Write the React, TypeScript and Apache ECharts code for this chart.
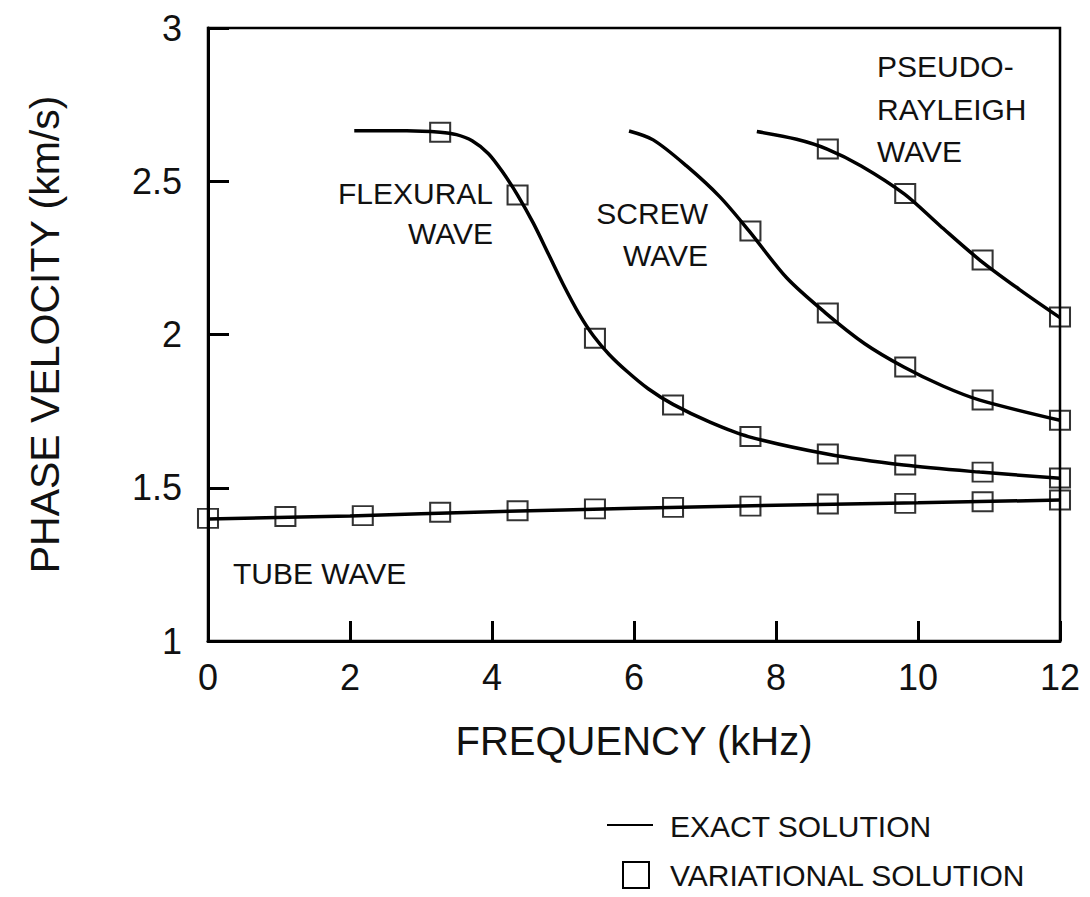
import React, { useEffect, useRef } from "react";
import * as echarts from "echarts";

// Frequencies (kHz) at which the variational solution was computed
const FREQ = [0, 1.09, 2.18, 3.27, 4.36, 5.45, 6.55, 7.64, 8.73, 9.82, 10.91, 12];

// Variational solution (squares), phase velocity km/s
const tubeVar = [1.4, 1.406, 1.409, 1.42, 1.425, 1.431, 1.436, 1.44, 1.447, 1.449, 1.454, 1.46];
const flexVar = [null, null, null, 2.66, 2.455, 1.988, 1.77, 1.667, 1.61, 1.574, 1.551, 1.532];
const screwVar = [null, null, null, null, null, null, null, 2.338, 2.07, 1.894, 1.786, 1.72];
const pseudoVar = [null, null, null, null, null, null, null, null, 2.605, 2.46, 2.243, 2.057];

// Exact solution (lines)
const tubeExactF = [0, 2, 4, 6, 8, 10, 12];
const tubeExactV = [1.398, 1.408, 1.422, 1.433, 1.443, 1.451, 1.46];

const flexExactF = [2.06, 2.8, 3.27, 3.5, 3.72, 3.95, 4.15, 4.36, 4.58, 4.8, 5.0, 5.22, 5.43, 5.65, 5.9, 6.2, 6.55, 7.07, 7.61, 8.72, 9.8, 10.87, 12];
const flexExactV = [2.665, 2.665, 2.66, 2.652, 2.632, 2.59, 2.53, 2.455, 2.364, 2.26, 2.165, 2.07, 1.995, 1.935, 1.88, 1.823, 1.772, 1.714, 1.667, 1.61, 1.574, 1.551, 1.531];

const screwExactF = [5.93, 6.27, 6.74, 7.21, 7.62, 8.15, 8.7, 9.25, 9.8, 10.35, 10.87, 12];
const screwExactV = [2.664, 2.635, 2.55, 2.449, 2.338, 2.185, 2.07, 1.97, 1.894, 1.832, 1.786, 1.72];

const pseudoExactF = [7.73, 8.29, 8.72, 9.2, 9.81, 10.31, 10.87, 11.44, 12];
const pseudoExactV = [2.662, 2.637, 2.605, 2.55, 2.458, 2.355, 2.243, 2.145, 2.055];

const X_TICKS = [0, 2, 4, 6, 8, 10, 12];
const Y_TICKS = [1, 1.5, 2, 2.5, 3];

const FONT = "'Liberation Sans', Arial, Helvetica, sans-serif";

function zip(f: number[], v: (number | null)[]) {
  const out: number[][] = [];
  f.forEach((x, i) => {
    const y = v[i];
    if (y !== null && y !== undefined) out.push([x, y]);
  });
  return out;
}

function lineSeries(name: string, f: number[], v: number[]) {
  return {
    name,
    type: "line",
    data: zip(f, v),
    smooth: 0.3,
    showSymbol: false,
    symbol: "none",
    lineStyle: { color: "#000", width: 3.5 },
    z: 2,
  };
}

function squareSeries(name: string, v: (number | null)[]) {
  return {
    name,
    type: "scatter",
    data: zip(FREQ, v),
    symbol: "rect",
    symbolSize: [20, 19],
    itemStyle: { color: "rgba(0,0,0,0)", borderColor: "#000", borderWidth: 2 },
    z: 3,
  };
}

function label(text: string, x: number, y: number, align: string) {
  return {
    type: "text",
    x,
    y,
    silent: true,
    style: {
      text,
      fontSize: 30,
      fontFamily: FONT,
      fill: "#111",
      align,
      verticalAlign: "middle",
    },
  };
}

export default function App() {
  const ref = useRef<HTMLDivElement>(null);

  useEffect(() => {
    document.body.style.margin = "0";
    if (!ref.current) return;
    const chart = echarts.init(ref.current, undefined, { renderer: "svg" });
    chart.setOption({
      animation: false,
      backgroundColor: "#fff",
      grid: {
        left: 208,
        top: 28,
        right: 30,
        bottom: 256,
        show: true,
        borderColor: "#000",
        borderWidth: 2.5,
      },
      xAxis: {
        type: "value",
        min: X_TICKS[0],
        max: X_TICKS[X_TICKS.length - 1],
        interval: 2,
        name: "FREQUENCY (kHz)",
        nameLocation: "middle",
        nameGap: 80,
        nameTextStyle: { fontSize: 40, fontFamily: FONT, color: "#111" },
        axisLine: { show: true, lineStyle: { color: "#000", width: 3 } },
        axisTick: { show: true, inside: true, length: 20, lineStyle: { color: "#000", width: 3 } },
        axisLabel: { fontSize: 36, fontFamily: FONT, color: "#111", margin: 18 },
        splitLine: { show: false },
      },
      yAxis: {
        type: "value",
        min: Y_TICKS[0],
        max: Y_TICKS[Y_TICKS.length - 1],
        interval: 0.5,
        name: "PHASE VELOCITY (km/s)",
        nameLocation: "middle",
        nameGap: 143,
        nameTextStyle: { fontSize: 41, fontFamily: FONT, color: "#111" },
        axisLine: { show: true, lineStyle: { color: "#000", width: 3 } },
        axisTick: { show: true, inside: true, length: 21, lineStyle: { color: "#000", width: 3 } },
        axisLabel: { fontSize: 36, fontFamily: FONT, color: "#111", margin: 26 },
        splitLine: { show: false },
      },
      series: [
        lineSeries("Tube exact", tubeExactF, tubeExactV),
        lineSeries("Flexural exact", flexExactF, flexExactV),
        lineSeries("Screw exact", screwExactF, screwExactV),
        lineSeries("Pseudo-Rayleigh exact", pseudoExactF, pseudoExactV),
        squareSeries("Tube variational", tubeVar),
        squareSeries("Flexural variational", flexVar),
        squareSeries("Screw variational", screwVar),
        squareSeries("Pseudo-Rayleigh variational", pseudoVar),
      ],
      graphic: [
        label("FLEXURAL", 493, 193, "right"),
        label("WAVE", 493, 233, "right"),
        label("SCREW", 708, 213, "right"),
        label("WAVE", 708, 255, "right"),
        label("PSEUDO-", 877, 66, "left"),
        label("RAYLEIGH", 877, 109, "left"),
        label("WAVE", 877, 151, "left"),
        label("TUBE WAVE", 233, 573, "left"),
        {
          type: "line",
          silent: true,
          shape: { x1: 607, y1: 825, x2: 653, y2: 825 },
          style: { stroke: "#000", lineWidth: 2 },
        },
        {
          type: "rect",
          silent: true,
          shape: { x: 623, y: 862, width: 26, height: 26 },
          style: { fill: "none", stroke: "#000", lineWidth: 2 },
        },
        label("EXACT SOLUTION", 670, 826, "left"),
        label("VARIATIONAL SOLUTION", 670, 875, "left"),
      ],
    });
    return () => chart.dispose();
  }, []);

  return (
    <div
      ref={ref}
      style={{ position: "absolute", left: 0, top: 0, width: 1090, height: 897 }}
    />
  );
}
